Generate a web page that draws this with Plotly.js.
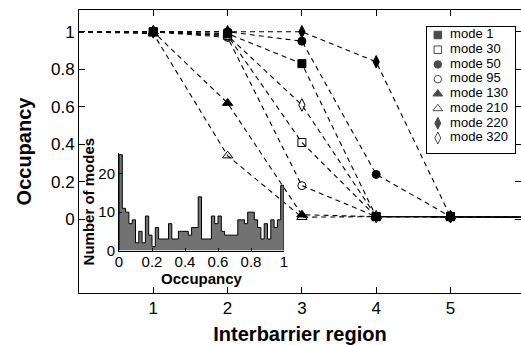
<!DOCTYPE html>
<html><head><meta charset="utf-8">
<script src="https://cdn.plot.ly/plotly-3.0.1.min.js"></script>
<style>html,body{margin:0;padding:0;background:#fff}#chart{width:521px;height:345px}</style>
</head><body><div id="chart"></div>
<script>
// ---------------- data ----------------
const regions = [0, 1, 2, 3, 4, 5, 6];            // interbarrier region (0 and 6 are line ends only)
const modeNames = ['mode 1', 'mode 30', 'mode 50', 'mode 95', 'mode 130', 'mode 210', 'mode 220', 'mode 320'];
const mode1   = [1, 1.00, 0.99, 0.83, 0.015, 0.015, 0.012];
const mode30  = [1, 1.00, 0.98, 0.41, 0.015, 0.015, 0.012];
const mode50  = [1, 1.00, 1.00, 0.95, 0.24, 0.015, 0.012];
const mode95  = [1, 1.00, 0.97, 0.18, 0.015, 0.015, 0.012];
const mode130 = [1, 1.00, 0.62, 0.025, 0.015, 0.015, 0.012];
const mode210 = [1, 0.99, 0.34, 0.012, 0.015, 0.015, 0.012];
const mode220 = [1, 1.00, 1.00, 1.00, 0.84, 0.015, 0.012];
const mode320 = [1, 1.00, 0.98, 0.61, 0.015, 0.015, 0.012];
const xTickVals = [1, 2, 3, 4, 5];
const yTickVals = [0, 0.2, 0.4, 0.6, 0.8, 1];
const yTickText = ['0', '0.2', '0.4', '0.6', '0.8', '1'];

// inset histogram: number of modes per occupancy bin (bin width 0.02)
const histCounts = [25, 11, 10, 7, 8, 2, 5, 2, 9, 4,
                    1, 6, 3, 3, 3, 7, 3, 3, 5, 5,
                    5, 4, 6, 6, 14, 3, 3, 3, 9, 7,
                    9, 5, 4, 4, 4, 4, 8, 8, 7, 10,
                    10, 8, 6, 3, 7, 3, 8, 6, 8, 17];
const histBinWidth = 0.02;
const insetXTickVals = [0, 0.2, 0.4, 0.6, 0.8, 1];
const insetXTickText = ['0', '0.2', '0.4', '0.6', '0.8', '1'];
const insetYTickVals = [0, 10, 20];

// ---------------- styles ----------------
const seriesValues = [mode1, mode30, mode50, mode95, mode130, mode210, mode220, mode320];
const symbols = ['square', 'square-open', 'circle', 'circle-open', 'triangle-up', 'triangle-up-open', 'diamond-tall', 'diamond-tall-open'];
const sizes = [8, 8, 8, 8, 9, 9, 9, 9];
const FONT = 'Liberation Sans, Arial, Helvetica, sans-serif';

const W = 521, H = 345;
const M = {l: 79, r: 0, t: 10, b: 52};
const PW = W - M.l - M.r, PH = H - M.t - M.b;
const px2x = p => (p - M.l) / PW;
const px2y = p => (H - M.b - p) / PH;

const traces = [];
// dashed connecting lines
seriesValues.forEach((vals, i) => {
  traces.push({
    x: regions, y: vals, xaxis: 'x', yaxis: 'y', mode: 'lines', showlegend: false, hoverinfo: 'skip',
    line: {color: '#000', width: 1.1, dash: '5px,4px'}
  });
});
// markers at regions 1..5
seriesValues.forEach((vals, i) => {
  traces.push({
    x: regions.slice(1, 6), y: vals.slice(1, 6), xaxis: 'x', yaxis: 'y', mode: 'markers', name: modeNames[i], showlegend: false,
    marker: {symbol: symbols[i], size: sizes[i], color: '#000', line: {color: '#000', width: 1}}
  });
});
// inset histogram (step outline)
const hx = [0], hy = [0];
histCounts.forEach((c, i) => { hx.push(i * histBinWidth); hy.push(c); });
hx.push(histCounts.length * histBinWidth); hy.push(0);
traces.push({
  x: hx, y: hy, xaxis: 'x2', yaxis: 'y2', mode: 'lines', line: {shape: 'hv', color: '#000', width: 1},
  fill: 'tozeroy', fillcolor: '#727272', showlegend: false, hoverinfo: 'skip'
});
// legend box (own small axes)
const legRows = modeNames.map((_, i) => i);
traces.push({
  x: legRows.map(() => 0.12), y: legRows, xaxis: 'x3', yaxis: 'y3', mode: 'markers', showlegend: false, hoverinfo: 'skip',
  marker: {symbol: symbols, size: sizes.map(s => s - 0.5), color: '#000', line: {color: '#000', width: 1}}
});
traces.push({
  x: legRows.map(() => 0.26), y: legRows, xaxis: 'x3', yaxis: 'y3', mode: 'text', text: modeNames, textposition: 'middle right',
  textfont: {size: 13, color: '#000', family: FONT}, showlegend: false, hoverinfo: 'skip', cliponaxis: false
});

const axBase = {showgrid: false, zeroline: false, showline: true, linecolor: '#000', linewidth: 1, ticks: 'inside', tickcolor: '#000'};

const layout = {
  width: W, height: H, margin: M, paper_bgcolor: '#fff', plot_bgcolor: 'rgba(0,0,0,0)',
  font: {family: FONT, color: '#000'},
  showlegend: false,
  xaxis: Object.assign({}, axBase, {
    domain: [0, 1], range: [0, (W - M.l - M.r) / 74.3], tickvals: xTickVals, ticklen: 6, mirror: 'ticks',
    tickfont: {size: 17}, title: {text: 'Interbarrier region', font: {size: 20, weight: 'bold'}, standoff: 9}
  }),
  yaxis: Object.assign({}, axBase, {
    domain: [0, 1], range: [-0.392, 1.116], tickvals: yTickVals, ticktext: yTickText, ticklen: 6, mirror: 'ticks',
    tickfont: {size: 17}, title: {text: 'Occupancy', font: {size: 20, weight: 'bold'}, standoff: 13}
  }),
  xaxis2: Object.assign({}, axBase, {
    anchor: 'y2', domain: [px2x(119), px2x(284)], range: [0, 1], tickvals: insetXTickVals, ticktext: insetXTickText,
    ticklen: 3, ticklabelstandoff: -3, tickfont: {size: 15}, title: {text: 'Occupancy', font: {size: 15, weight: 'bold'}, standoff: 1}
  }),
  yaxis2: Object.assign({}, axBase, {
    anchor: 'x2', domain: [px2y(250.5), px2y(152.8)], range: [0, 25.5], tickvals: insetYTickVals,
    ticklen: 3, tickfont: {size: 15}, title: {text: 'Number of modes', font: {size: 15, weight: 'bold'}, standoff: 0}
  }),
  xaxis3: {anchor: 'y3', domain: [px2x(427.3), px2x(515)], range: [0, 1], showline: true, mirror: true, linecolor: '#000', linewidth: 1,
           showgrid: false, zeroline: false, showticklabels: false, ticks: ''},
  yaxis3: {anchor: 'x3', domain: [px2y(152.7), px2y(26.7)], range: [8.0, -0.565], showline: true, mirror: true, linecolor: '#000', linewidth: 1,
           showgrid: false, zeroline: false, showticklabels: false, ticks: ''}
};

Plotly.newPlot('chart', traces, layout, {staticPlot: true, displayModeBar: false});
</script>
</body></html>
